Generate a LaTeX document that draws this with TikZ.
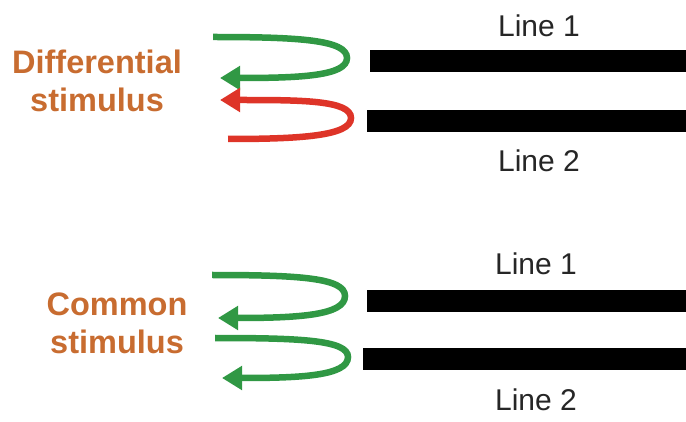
\documentclass[tikz,border=0pt]{standalone}
\usepackage{fontspec}
\setmainfont{Liberation Sans}
\usetikzlibrary{arrows.meta}
\definecolor{stimorange}{RGB}{200,108,48}
\definecolor{loopgreen}{RGB}{48,152,68}
\definecolor{loopred}{RGB}{222,52,40}
\tikzset{
  linelabel/.style={font=\fontsize{30}{32}\selectfont, text=black!85, inner sep=0pt},
  stimlabel/.style={font=\fontsize{32.5}{38}\selectfont\bfseries, text=stimorange, align=center, inner sep=0pt},
  bar/.style={fill=black, draw=none, inner sep=0pt, minimum height=22pt, anchor=west},
  loop/.style={line width=6.5pt, -{Triangle[length=20pt,width=23pt]}, shorten >=-2pt},
}
\begin{document}
\begin{tikzpicture}[x=1pt,y=-1pt]
\useasboundingbox (0,0) rectangle (686,422);
% bars
\node[bar, minimum width=316pt] (t1) at (370,61) {};
\node[bar, minimum width=319pt] (t2) at (367,121) {};
\node[bar, minimum width=319pt] (b1) at (367,301) {};
\node[bar, minimum width=323pt] (b2) at (363,359) {};
% labels
\node[linelabel] (lt1) at (539,26) {Line 1};
\node[linelabel] (lt2) at (539,161) {Line 2};
\node[linelabel] (lb1) at (536,264) {Line 1};
\node[linelabel] (lb2) at (536,400) {Line 2};
\node[stimlabel] (diff) at (97,81) {Differential\\stimulus};
\node[stimlabel] (comm) at (117,323) {Common\\stimulus};
% loop points
\coordinate (a1s) at (213,37);  \coordinate (a1r) at (347,58);  \coordinate (a1e) at (222,78);
\coordinate (a2s) at (228,139); \coordinate (a2r) at (351,118); \coordinate (a2e) at (222,100);
\coordinate (a3s) at (212,275); \coordinate (a3r) at (345,296); \coordinate (a3e) at (220,318);
\coordinate (a4s) at (215,338); \coordinate (a4r) at (348,357); \coordinate (a4e) at (224,378);
\draw[loop, loopgreen] (a1s) .. controls (300,37) and (347,40) .. (a1r) .. controls (347,76) and (300,78) .. (a1e);
\draw[loop, loopred] (a2s) .. controls (300,139) and (351,136) .. (a2r) .. controls (351,100) and (300,100) .. (a2e);
\draw[loop, loopgreen] (a3s) .. controls (300,275) and (345,278) .. (a3r) .. controls (345,315) and (300,318) .. (a3e);
\draw[loop, loopgreen] (a4s) .. controls (300,338) and (348,340) .. (a4r) .. controls (348,376) and (300,378) .. (a4e);
\end{tikzpicture}
\end{document}
